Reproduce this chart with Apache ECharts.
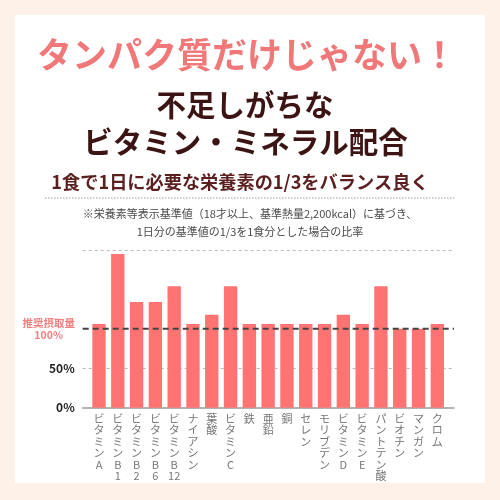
<!DOCTYPE html>
<html>
<head>
<meta charset="utf-8">
<script src="https://cdn.jsdelivr.net/npm/echarts@6/dist/echarts.min.js"></script>
<style>
html,body{margin:0;padding:0;background:#fdf1e8;}
#c{width:500px;height:500px;}
</style>
</head>
<body>
<div id="c"></div>
<script>
const categories = ['ビタミンA','ビタミンB1','ビタミンB2','ビタミンB6','ビタミンB12','ナイアシン','葉酸','ビタミンC','鉄','亜鉛','銅','セレン','モリブデン','ビタミンD','ビタミンE','パントテン酸','ビオチン','マンガン','クロム'];
const values = [106,195,134,134,154,106,118,154,106,106,106,106,106,118,106,154,100,100,106];
const referenceValue = 100;
const yTickLabels = {0:'0%',50:'50%',100:'推奨摂取量\n100%'};
const titleMain = 'タンパク質だけじゃない！';
const headLine1 = '不足しがちな';
const headLine2 = 'ビタミン・ミネラル配合';
const subTitle = '1食で1日に必要な栄養素の1/3をバランス良く';
const noteLine1 = '※栄養素等表示基準値（18才以上、基準熱量2,200kcal）に基づき、';
const noteLine2 = '1日分の基準値の1/3を1食分とした場合の比率';

const FONT = '"Noto Sans CJK JP","Noto Sans",sans-serif';

function verticalLabel(name){
  const m = name.match(/^(.*?B)(\d+)$/);
  let parts;
  if (m) { parts = Array.from(m[1]); parts.push(m[2]); }
  else parts = Array.from(name);
  return parts.join('\n');
}

const chart = echarts.init(document.getElementById('c'), null, {renderer:'canvas'});
chart.setOption({
  backgroundColor:'#fdf1e8',
  animation:false,
  textStyle:{fontFamily:FONT},
  graphic:[
    {type:'rect', z:-10, shape:{x:15,y:15,width:470,height:468}, style:{fill:'#ffffff'}},
    {type:'text', style:{x:247,y:55,text:titleMain,fill:'#f07878',font:'bold 35px '+FONT,textAlign:'center',textVerticalAlign:'middle'}},
    {type:'text', style:{x:245,y:105,text:headLine1,fill:'#3d1414',font:'bold 29.5px '+FONT,textAlign:'center',textVerticalAlign:'middle'}},
    {type:'text', style:{x:245.5,y:142,text:headLine2,fill:'#3d1414',font:'bold 29.5px '+FONT,textAlign:'center',textVerticalAlign:'middle'}},
    {type:'text', style:{x:240,y:182,text:subTitle,fill:'#5c1f1f',font:'bold 18.2px '+FONT,textAlign:'center',textVerticalAlign:'middle'}},
    {type:'line', shape:{x1:45,y1:198,x2:455,y2:198}, style:{stroke:'#999',lineWidth:1,lineDash:[1.5,1.5]}},
    {type:'text', style:{x:250,y:214,text:noteLine1,fill:'#4a4a4a',font:'11px '+FONT,textAlign:'center',textVerticalAlign:'middle'}},
    {type:'text', style:{x:250,y:232,text:noteLine2,fill:'#4a4a4a',font:'11px '+FONT,textAlign:'center',textVerticalAlign:'middle'}}
  ],
  grid:[
    {left:82.7,right:46,top:250,bottom:92.3},
    {left:89.6,right:53.3,top:250,bottom:92.3}
  ],
  xAxis:[
    {type:'value',gridIndex:0,min:0,max:1,
      axisLine:{show:true,onZero:false,lineStyle:{color:'#999',width:1.5}},
      axisTick:{show:false},axisLabel:{show:false},splitLine:{show:false}},
    {type:'category',gridIndex:1,data:categories,
      axisLine:{show:false},axisTick:{show:false},
      axisLabel:{interval:0,margin:5,color:'#777',fontSize:11,lineHeight:11.5,verticalAlign:'top',fontFamily:FONT,
        formatter:verticalLabel}}
  ],
  yAxis:[
    {type:'value',gridIndex:0,min:0,max:200,interval:50,
      axisLine:{show:false},axisTick:{show:false},
      axisLabel:{margin:8,fontFamily:FONT,
        formatter:function(v){
          if(v===100) return '{p|推奨摂取量}\n{p|100%}';
          if(yTickLabels[v]!==undefined) return '{b|'+yTickLabels[v]+'}';
          return '';
        },
        rich:{
          b:{fontSize:12,fontWeight:'bold',color:'#222',fontFamily:FONT},
          p:{fontSize:10.5,fontWeight:'bold',color:'#f08080',width:52,align:'center',lineHeight:12,fontFamily:FONT}
        }},
      splitLine:{show:true,lineStyle:{color:['transparent','#bbb','transparent','transparent','#bbb'],type:[3,3],width:1}}},
    {type:'value',gridIndex:1,min:0,max:200,interval:50,show:false,splitLine:{show:false}}
  ],
  series:[
    {type:'bar',xAxisIndex:1,yAxisIndex:1,data:values,barWidth:'71%',
      itemStyle:{color:'#ff7373'},silent:true,z:2},
    {type:'line',xAxisIndex:0,yAxisIndex:0,data:[[0,referenceValue],[1,referenceValue]],
      symbol:'none',silent:true,z:5,
      lineStyle:{color:'#444',width:2,type:[6,4]}}
  ]
});
</script>
</body>
</html>
